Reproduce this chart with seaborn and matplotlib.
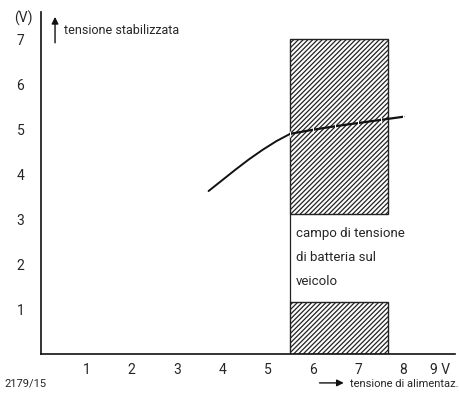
import numpy as np
import pandas as pd
import seaborn as sns
import matplotlib.pyplot as plt
import matplotlib.transforms as mtransforms
from matplotlib.patches import Rectangle

# characteristic curve: supply voltage -> stabilised voltage
supply_v = [3.7, 4.0, 4.3, 4.6, 4.9, 5.2, 5.5]
stab_v = [3.62, 3.86, 4.1, 4.33, 4.54, 4.73, 4.89]
# continuation inside the battery range
supply_v_band = [5.5, 6.0, 6.5, 7.0, 7.5, 8.0]
stab_v_band = [4.89, 4.98, 5.06, 5.13, 5.2, 5.27]

battery_range = [5.5, 7.66]
band_top = 7.0
gap = [1.15, 3.1]

x_ticks = [1, 2, 3, 4, 5, 6, 7, 8, 9]
x_labels = ["1", "2", "3", "4", "5", "6", "7", "8", "9 V"]
y_ticks = [1, 2, 3, 4, 5, 6, 7]

sns.set_style("white")
plt.rcParams["font.family"] = ["Roboto", "DejaVu Sans"]
plt.rcParams["hatch.linewidth"] = 0.9

fig = plt.figure(figsize=(4.59, 4.02), dpi=100)
ax = fig.add_axes([0.0893, 0.117, 0.902, 0.851])

df = pd.DataFrame({"x": supply_v, "y": stab_v})
df_band = pd.DataFrame({"x": supply_v_band, "y": stab_v_band})

# hatched battery-voltage band, split by the label
lo, hi = battery_range
for y0, y1 in [(0, gap[0]), (gap[1], band_top)]:
    ax.add_patch(Rectangle((lo, y0), hi - lo, y1 - y0, facecolor="white",
                           edgecolor="#222222", hatch="///////", linewidth=1.0, zorder=1))
ax.plot([lo, lo], [gap[0], gap[1]], color="#222222", lw=0.9, zorder=2)

sns.lineplot(data=df, x="x", y="y", color="#111111", lw=1.4, ax=ax, zorder=3)
sns.lineplot(data=df_band, x="x", y="y", color="#111111", lw=1.6, ax=ax, zorder=3,
             marker="|", markersize=4, markevery=1)

ax.set_xlim(0, 9.14)
ax.set_ylim(0, 7.6)
ax.set_xticks(x_ticks)
ax.set_xticklabels(x_labels, fontsize=10)
ax.set_yticks(y_ticks)
ax.set_yticklabels([str(v) for v in y_ticks], fontsize=10)
ax.tick_params(axis="x", direction="in", length=4, width=0.9, pad=6)
ax.tick_params(axis="y", direction="out", length=4, width=0.9, pad=8)
# keep "9 V" inside the figure
last = ax.get_xticklabels()[-1]
last.set_transform(last.get_transform() +
                   mtransforms.ScaledTranslation(-6 / 72, 0, fig.dpi_scale_trans))
ax.set_xlabel("")
ax.set_ylabel("")
for side in ["top", "right"]:
    ax.spines[side].set_visible(False)
for side in ["left", "bottom"]:
    ax.spines[side].set_color("#111111")
    ax.spines[side].set_linewidth(1.2)

ax.text(5.62, 2.7, "campo di tensione", fontsize=9.5, va="center")
ax.text(5.62, 2.17, "di batteria sul", fontsize=9.5, va="center")
ax.text(5.62, 1.64, "veicolo", fontsize=9.5, va="center")

fig.text(0.03, 0.955, "(V)", fontsize=10, va="center")
ax.annotate("", xy=(0.31, 7.55), xytext=(0.31, 6.85),
            arrowprops=dict(arrowstyle="-|>", color="#111111", lw=1.0), annotation_clip=False)
ax.text(0.5, 7.2, "tensione stabilizzata", fontsize=9, va="center")

fig.text(0.01, 0.045, "2179/15", fontsize=8, va="center")
ax.annotate("", xy=(0.755, 0.045), xytext=(0.69, 0.045), xycoords="figure fraction",
            textcoords="figure fraction", annotation_clip=False,
            arrowprops=dict(arrowstyle="-|>", color="#111111", lw=1.0))
fig.text(0.762, 0.045, "tensione di alimentaz.", fontsize=8, va="center")

fig.savefig("out.png", dpi=100)
